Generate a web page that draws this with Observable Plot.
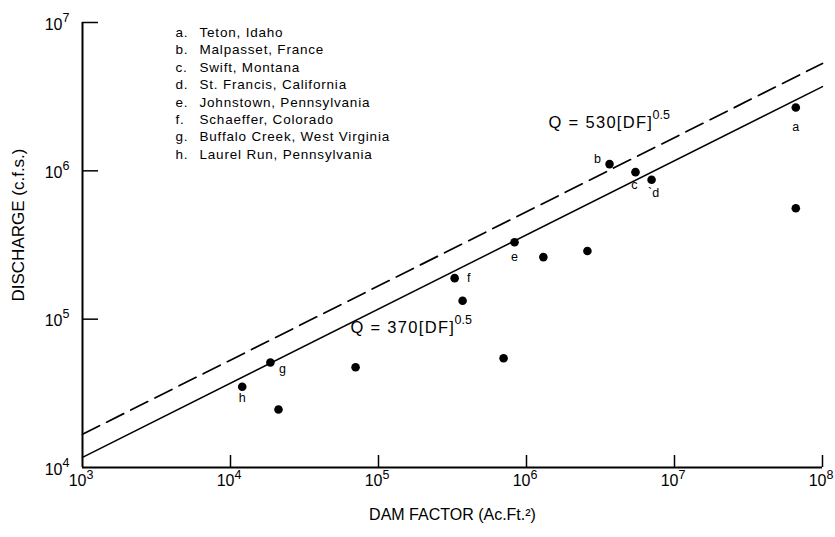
<!DOCTYPE html>
<html>
<head>
<meta charset="utf-8">
<script src="https://cdn.jsdelivr.net/npm/d3@7"></script>
<script src="https://cdn.jsdelivr.net/npm/@observablehq/plot@0.6"></script>
<style>
  html, body { margin: 0; padding: 0; background: #fff; }
  #chart svg { font-family: "Liberation Sans", Arial, Helvetica, sans-serif; }
  #chart .wide text { letter-spacing: 0.8px; }
  #chart .eq text { letter-spacing: 1.3px; }
</style>
</head>
<body>
<div id="chart"></div>
<script>
// ---- data ----
const damFactor = [6.6e7, 6.6e7, 3.64e6, 5.45e6, 7.0e6, 8.3e5, 1.30e6, 2.58e6, 3.27e5, 3.70e5, 7.0e5, 1.86e4, 1.20e4, 2.11e4, 7.0e4];
const discharge = [2.67e6, 5.6e5, 1.11e6, 9.8e5, 8.7e5, 3.3e5, 2.62e5, 2.88e5, 1.89e5, 1.33e5, 5.45e4, 5.1e4, 3.5e4, 2.46e4, 4.74e4];
const pointLabel = ["a", "", "b", "c", "`d", "e", "", "", "f", "", "", "g", "h", "", ""];

const legendLetters = ["a.", "b.", "c.", "d.", "e.", "f.", "g.", "h."];
const legendNames = ["Teton, Idaho", "Malpasset, France", "Swift, Montana", "St. Francis, California",
  "Johnstown, Pennsylvania", "Schaeffer, Colorado", "Buffalo Creek, West Virginia", "Laurel Run, Pennsylvania"];

const lineDF = [1e3, 1e8];
const q370 = [11700, 3700000];
const q530 = [16760, 5300000];

const eqText = ["Q = 530[DF]", "Q = 370[DF]"];
const eqExp = ["0.5", "0.5"];
const eqDF = [1.41e6, 6.47e4];
const eqQ = [2.11e6, 8.7e4];

const xTicks = [1e3, 1e4, 1e5, 1e6, 1e7, 1e8];
const xExp = ["3", "4", "5", "6", "7", "8"];
const yTicks = [1e4, 1e5, 1e6, 1e7];
const yExp = ["4", "5", "6", "7"];
const xTitle = "DAM FACTOR (Ac.Ft.²)";
const yTitle = "DISCHARGE (c.f.s.)";

// ---- tables ----
const points = damFactor.map((d, i) => ({df: d, q: discharge[i], label: pointLabel[i]}));
const solid = lineDF.map((d, i) => ({df: d, q: q370[i]}));
const dashed = lineDF.map((d, i) => ({df: d, q: q530[i]}));
const eqs = eqText.map((t, i) => ({t, e: eqExp[i], df: eqDF[i], q: eqQ[i]}));
const xt = xTicks.map((v, i) => ({v, e: xExp[i]}));
const yt = yTicks.map((v, i) => ({v, e: yExp[i]}));

const W = 835, H = 537, ML = 82, MR = 13, MT = 22, MB = 70;
const frameH = H - MT - MB, frameW = W - ML - MR;

const byLab = (set) => points.filter(p => set.includes(p.label));
const lab = {fontSize: 12.5, fill: "#000", x: "df", y: "q", text: "label"};

const chart = Plot.plot({
  width: W, height: H,
  marginLeft: ML, marginRight: MR, marginTop: MT, marginBottom: MB,
  x: {type: "log", domain: [1e3, 1e8], axis: null},
  y: {type: "log", domain: [1e4, 1e7], axis: null},
  marks: [
    // axes
    Plot.ruleY([1e4], {stroke: "#000", strokeWidth: 2}),
    Plot.ruleX([1e3], {stroke: "#000", strokeWidth: 2}),
    Plot.tickX(xTicks.slice(1), {x: d => d, insetTop: frameH - 12, stroke: "#000", strokeWidth: 1.5}),
    Plot.tickY(yTicks.slice(1), {y: d => d, insetRight: frameW - 16, stroke: "#000", strokeWidth: 1.5}),
    // x tick labels
    Plot.text(xt, {x: "v", frameAnchor: "bottom", dy: 18, dx: 4, text: () => "10", textAnchor: "end", fontSize: 16, fill: "#000"}),
    Plot.text(xt, {x: "v", frameAnchor: "bottom", dy: 11, dx: 4, text: "e", textAnchor: "start", fontSize: 12.5, fill: "#000"}),
    // y tick labels
    Plot.text(yt, {y: "v", frameAnchor: "left", dx: -20, dy: 2, text: () => "10", textAnchor: "end", fontSize: 16, fill: "#000"}),
    Plot.text(yt, {y: "v", frameAnchor: "left", dx: -20, dy: -5, text: "e", textAnchor: "start", fontSize: 12.5, fill: "#000"}),
    // axis titles
    Plot.text([xTitle], {frameAnchor: "bottom", dy: 52, fontSize: 16, fill: "#000"}),
    Plot.text([yTitle], {frameAnchor: "left", textAnchor: "middle", dx: -64, dy: -20, rotate: -90, fontSize: 17, fill: "#000"}),
    // lines
    Plot.line(dashed, {x: "df", y: "q", stroke: "#000", strokeWidth: 1.7, strokeDasharray: "19,8"}),
    Plot.line(solid, {x: "df", y: "q", stroke: "#000", strokeWidth: 1.5}),
    // equations
    Plot.text(eqs, {x: "df", y: "q", text: "t", textAnchor: "start", fontSize: 16.5, fill: "#000", className: "eq"}),
    Plot.text(eqs, {x: "df", y: "q", text: "e", textAnchor: "start", dx: 104, dy: -8, fontSize: 12.5, fill: "#000"}),
    // points
    Plot.dot(points, {x: "df", y: "q", r: 4.3, fill: "#000", stroke: "none"}),
    // point labels
    Plot.text(byLab(["a"]), {...lab, dy: 19}),
    Plot.text(byLab(["b"]), {...lab, dx: -12, dy: -5}),
    Plot.text(byLab(["c"]), {...lab, dx: -1, dy: 13}),
    Plot.text(byLab(["`d"]), {...lab, dx: 2, dy: 13}),
    Plot.text(byLab(["e"]), {...lab, dy: 15}),
    Plot.text(byLab(["f"]), {...lab, dx: 14}),
    Plot.text(byLab(["g"]), {...lab, dx: 12, dy: 6}),
    Plot.text(byLab(["h"]), {...lab, dy: 11}),
    // legend
    Plot.text([legendLetters.join("\n")], {frameAnchor: "top-left", textAnchor: "start", lineAnchor: "top", dx: 93, dy: 2, lineHeight: 1.29, fontSize: 13.5, fill: "#000", className: "wide"}),
    Plot.text([legendNames.join("\n")], {frameAnchor: "top-left", textAnchor: "start", lineAnchor: "top", dx: 117, dy: 2, lineHeight: 1.29, fontSize: 13.5, fill: "#000", className: "wide"})
  ]
});
document.getElementById("chart").appendChild(chart);
</script>
</body>
</html>
